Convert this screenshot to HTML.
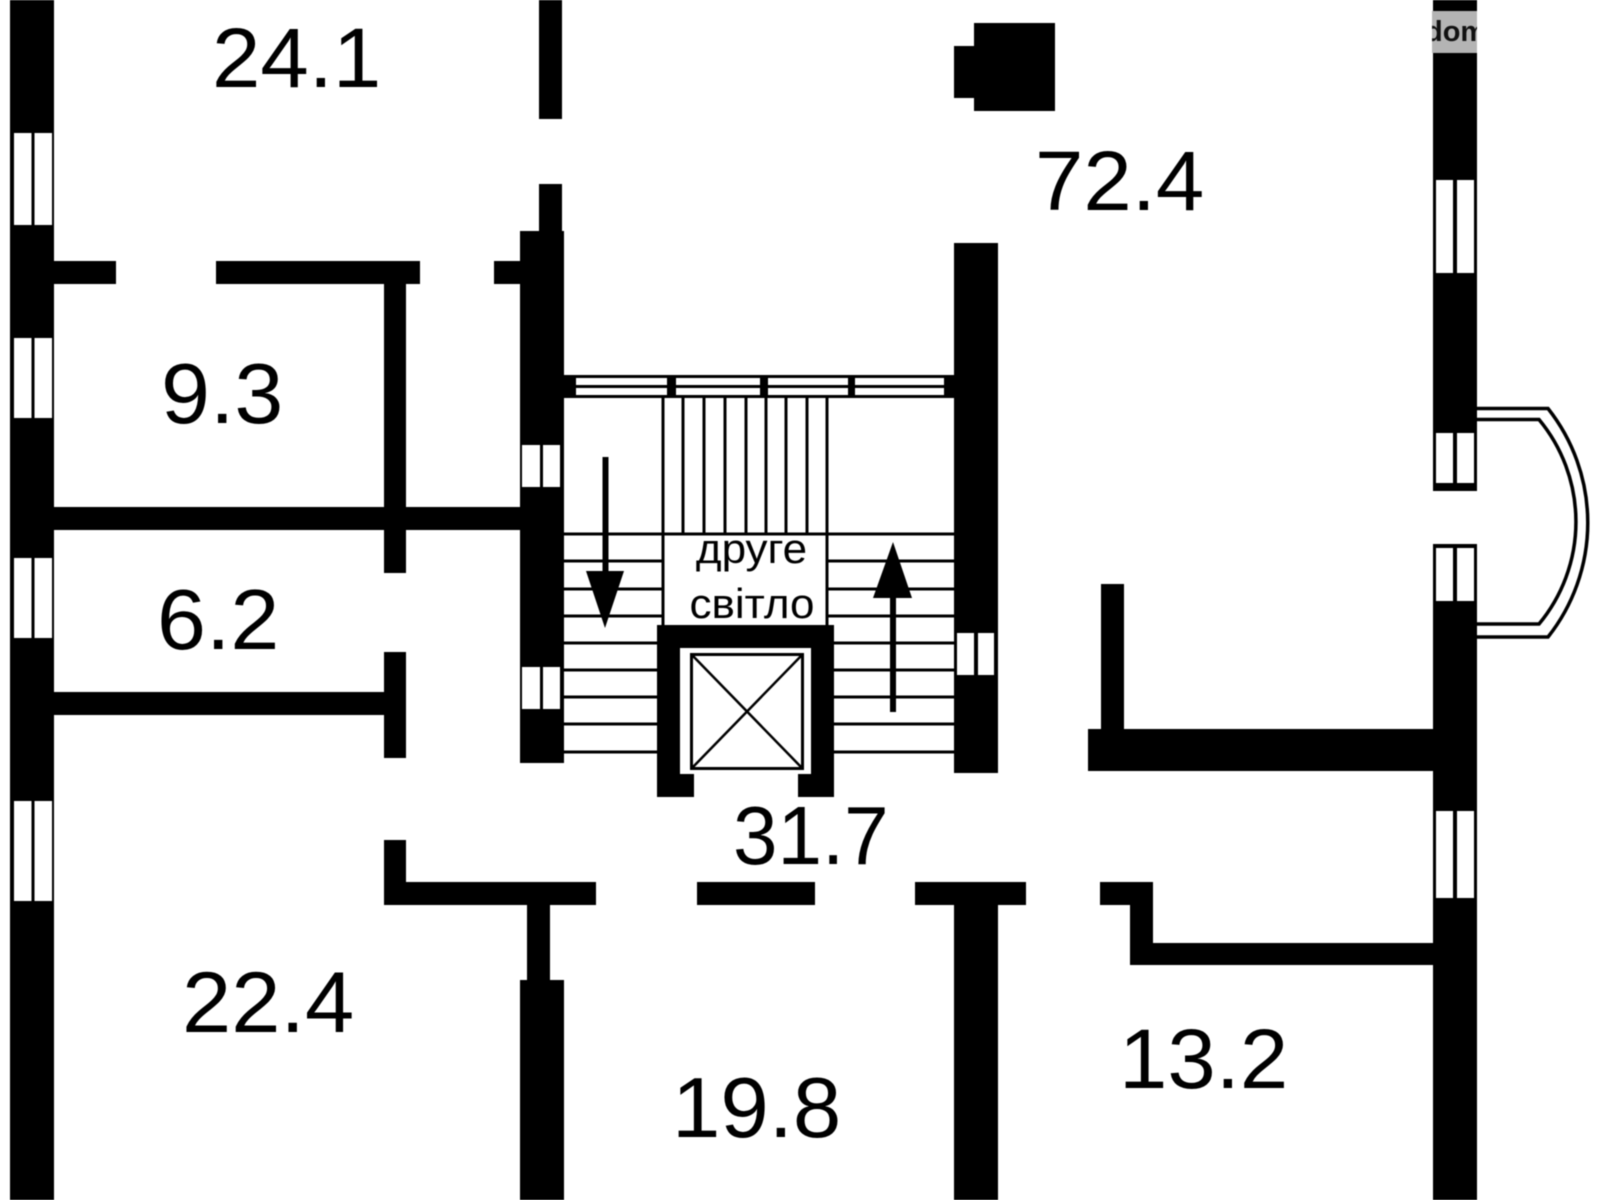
<!DOCTYPE html>
<html><head><meta charset="utf-8"><style>
html,body{margin:0;padding:0;background:#fff}
svg{display:block}
text{font-family:"Liberation Sans",sans-serif;fill:#000}
</style></head><body>
<svg xmlns="http://www.w3.org/2000/svg" width="1600" height="1200" viewBox="0 0 1600 1200" style="filter:blur(0.5px)">
<rect width="1600" height="1200" fill="#fff"/>
<g fill="#000">
<!-- outer walls -->
<rect x="10" y="0" width="44" height="1200"/>
<rect x="1433" y="0" width="44" height="491"/>
<rect x="1433" y="544" width="44" height="656"/>
<!-- upper left partition -->
<rect x="54" y="261" width="62" height="23"/>
<rect x="216" y="261" width="204" height="23"/>
<rect x="494" y="261" width="30" height="23"/>
<rect x="384" y="284" width="22" height="289"/>
<rect x="54" y="507" width="470" height="23"/>
<rect x="384" y="652" width="22" height="106"/>
<rect x="54" y="692" width="330" height="23"/>
<!-- center walls -->
<rect x="539" y="0" width="23" height="119"/>
<rect x="539" y="184" width="23" height="48"/>
<rect x="520" y="231" width="44" height="532"/>
<rect x="954" y="243" width="44" height="530"/>
<!-- column -->
<rect x="974" y="23" width="81" height="88"/>
<rect x="954" y="46" width="21" height="52"/>
<!-- right partition -->
<rect x="1101" y="584" width="23" height="146"/>
<rect x="1088" y="729" width="345" height="42"/>
<!-- lower walls -->
<rect x="384" y="840" width="22" height="65"/>
<rect x="384" y="882" width="212" height="23"/>
<rect x="697" y="882" width="118" height="23"/>
<rect x="915" y="882" width="111" height="23"/>
<rect x="1100" y="882" width="53" height="23"/>
<rect x="1130" y="882" width="23" height="83"/>
<rect x="1130" y="943" width="303" height="22"/>
<rect x="527" y="905" width="23" height="76"/>
<rect x="520" y="980" width="44" height="220"/>
<rect x="954" y="905" width="44" height="295"/>
</g>
<!-- windows: left outer -->
<g fill="#fff">
<rect x="14" y="133" width="17.500" height="92"/><rect x="34.500" y="133" width="17.500" height="92"/>
<rect x="14" y="338" width="17.500" height="80"/><rect x="34.500" y="338" width="17.500" height="80"/>
<rect x="14" y="558" width="17.500" height="80"/><rect x="34.500" y="558" width="17.500" height="80"/>
<rect x="14" y="801" width="17.500" height="100"/><rect x="34.500" y="801" width="17.500" height="100"/>
<!-- right outer -->
<rect x="1436" y="180" width="17" height="93"/><rect x="1457" y="180" width="17" height="93"/>
<rect x="1436" y="433" width="17" height="50"/><rect x="1457" y="433" width="17" height="50"/>
<rect x="1436" y="548" width="17" height="53"/><rect x="1457" y="548" width="17" height="53"/>
<rect x="1436" y="811" width="17" height="87"/><rect x="1457" y="811" width="17" height="87"/>
<!-- stair walls -->
<rect x="522" y="445" width="18" height="42"/><rect x="543" y="445" width="17" height="42"/>
<rect x="522" y="667" width="18" height="42"/><rect x="543" y="667" width="17" height="42"/>
<rect x="957" y="633" width="17" height="42"/><rect x="978" y="633" width="16" height="42"/>
</g>
<!-- watermark -->
<rect x="1432" y="11" width="45" height="42" fill="#b4b4b4"/>
<svg x="1432" y="0" width="45" height="60" viewBox="1432 0 45 60"><text x="1425" y="41" font-size="29" style="font-weight:bold;fill:#111">dom</text></svg>
<!-- top stair strip -->
<rect x="564" y="375" width="390" height="23" fill="#000"/>
<g fill="#fff">
<rect x="576" y="378" width="91" height="7"/><rect x="576" y="388" width="91" height="7"/>
<rect x="676" y="378" width="84" height="7"/><rect x="676" y="388" width="84" height="7"/>
<rect x="768" y="378" width="80" height="7"/><rect x="768" y="388" width="80" height="7"/>
<rect x="855" y="378" width="89" height="7"/><rect x="855" y="388" width="89" height="7"/>
</g>
<!-- stair lines -->
<g stroke="#000" stroke-width="3" fill="none">
<path d="M663 398V625M683 398V534M704 398V534M725 398V534M746 398V534M766 398V534M786 398V534M807 398V534M827 398V625"/>
<path d="M563 534H954M563 561H663M563 589H663M563 616H663M563 643H657M563 670H657M563 697H657M563 724H657M563 752H657"/>
<path d="M827 561H954M827 589H954M827 616H954M834 643H954M834 670H954M834 697H954M834 724H954M834 752H954"/>
</g>
<!-- elevator -->
<path fill="#000" d="M657 625H834V797H798V774H811V648H680V774H694V797H657Z"/>
<rect x="691.500" y="654.500" width="111" height="114" fill="#fff" stroke="#000" stroke-width="3"/>
<path d="M692 655L802 768M802 655L692 768" stroke="#000" stroke-width="2.500"/>
<!-- arrows -->
<rect x="602.500" y="457" width="6" height="116" fill="#000"/>
<polygon points="586,571 624,571 605,628" fill="#000"/>
<rect x="890" y="596" width="6" height="116" fill="#000"/>
<polygon points="873,598 912,598 893,542" fill="#000"/>
<!-- balcony -->
<g fill="none" stroke="#000" stroke-width="3.500">
<path d="M1477 408.500H1548A184 184 0 0 1 1548 637H1477"/>
<path d="M1477 419.500H1539A160 160 0 0 1 1539 624H1477"/>
</g>
<!-- labels -->
<g font-size="87">
<text transform="translate(212,87) scale(1,0.97)">24.1</text>
<text transform="translate(1035,210) scale(1,0.97)">72.4</text>
<text transform="translate(161,423) scale(1,0.97)" font-size="88">9.3</text>
<text transform="translate(157,649) scale(1,0.97)" font-size="88">6.2</text>
<text transform="translate(733,864) scale(1,1.03)" font-size="80">31.7</text>
<text transform="translate(182,1032) scale(1,0.97)" font-size="88.500">22.4</text>
<text transform="translate(672,1137) scale(1,0.98)">19.8</text>
<text transform="translate(1119,1088) scale(1,0.97)">13.2</text>
</g>
<g font-size="44" text-anchor="middle">
<text transform="translate(751.500,563) scale(1,0.95)">друге</text>
<text transform="translate(752,618) scale(1,0.95)">світло</text>
</g>
</svg>
</body></html>
